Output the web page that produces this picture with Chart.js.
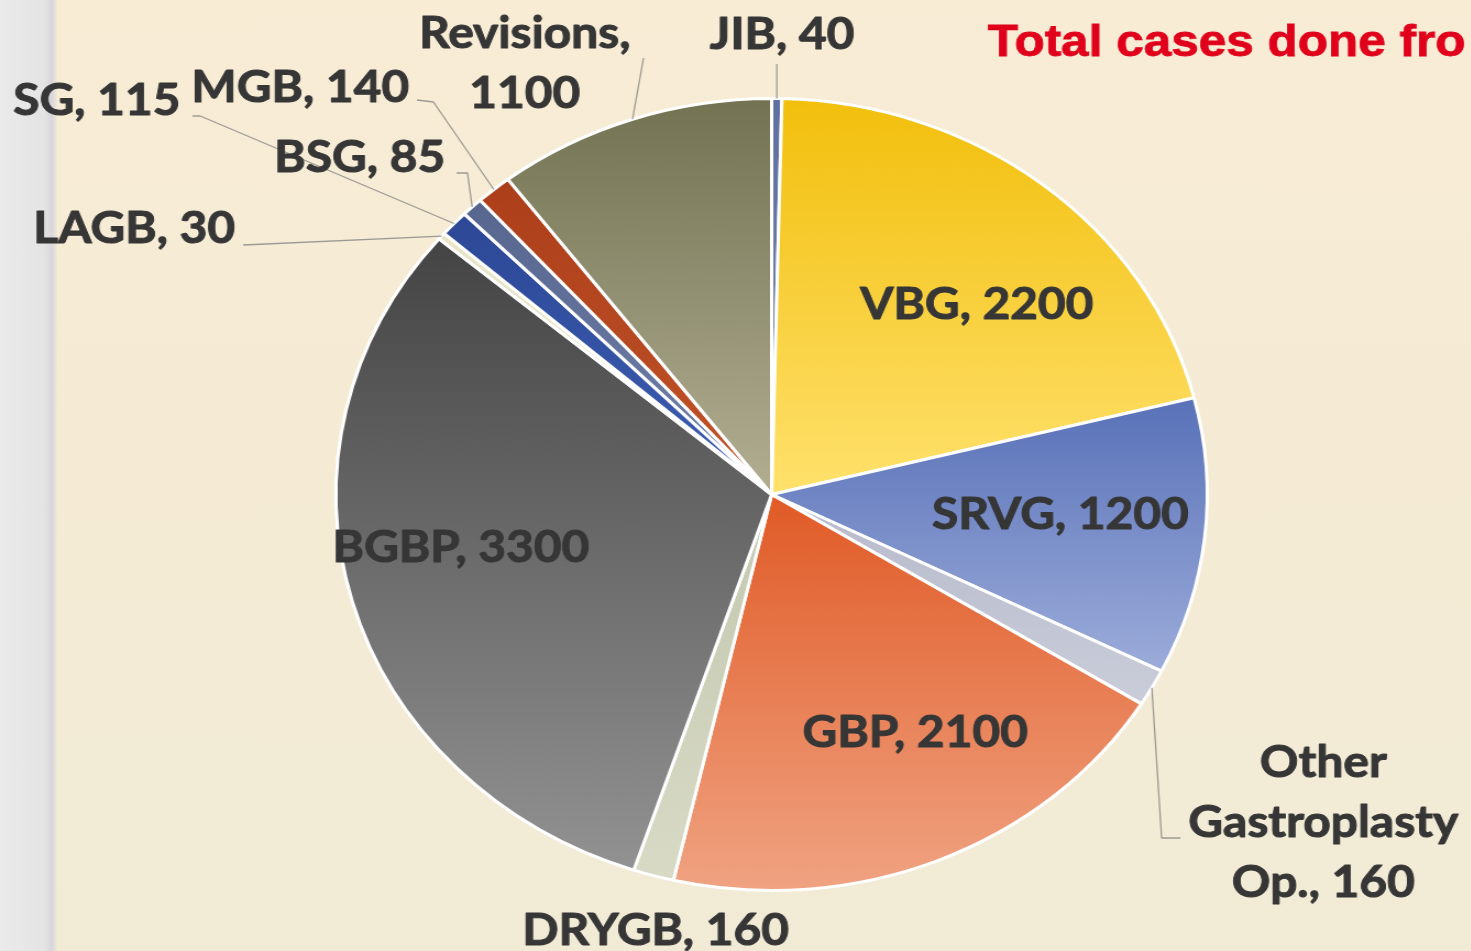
<!DOCTYPE html>
<html>
<head>
<meta charset="utf-8">
<script src="https://cdn.jsdelivr.net/npm/chart.js@4.4.1/dist/chart.umd.min.js"></script>
<style>
    html, body { margin: 0; padding: 0; }
    body {
        width: 1471px; height: 951px; overflow: hidden; position: relative;
        background: linear-gradient(180deg, #F8ECD5 0%, #F5EBD5 45%, #F1EBD6 100%);
    }
    #strip {
        position: absolute; left: 0; top: 0; width: 57px; height: 951px;
        background: linear-gradient(90deg, #EAEAEA 0px, #E4E4E4 44px, #D8D6DC 52px, #EFE9D6 57px);
    }
    /* the source slide is stretched horizontally, so the canvas is too */
    #chart { position: absolute; left: 0; top: 0; transform: scaleX(1.1); transform-origin: 0 0; }
</style>
</head>
<body>
<div id="strip"></div>
<canvas id="chart" width="1337" height="951"></canvas>
<script>
const procedures = ['JIB', 'VBG', 'SRVG', 'Other Gastroplasty Op.', 'GBP', 'DRYGB', 'BGBP', 'LAGB', 'SG', 'BSG', 'MGB', 'Revisions'];
const cases = [40, 2200, 1200, 160, 2100, 160, 3300, 30, 115, 85, 140, 1100];
const chartTitle = 'Total cases done fro';

// vertical gradient per slice: top colour -> bottom colour
const topColors = ['#5F6FA0', '#F2BF0C', '#5871B8', '#B6BACB', '#E05A26', '#C4C8AE', '#444444', '#E8E4C8', '#2C4896', '#56668E', '#AC3E1A', '#737353'];
const bottomColors = ['#7585B5', '#FFE16C', '#9CACDA', '#CACDD9', '#F0A382', '#D8DAC6', '#929292', '#EEEAD2', '#3E5EB4', '#7282AA', '#C2542A', '#B2AE92'];

// label placement (canvas px), leader lines start at the slice's outer edge
const labelLayout = [
    { x: 711, y: [49], leader: [[null, 64]] },
    { x: 888, y: [319] },
    { x: 964, y: [529] },
    { x: 1203, y: [777, 837, 897], lines: [1, 1, 2], leader: [[1056, 838], [1073, 838]] },
    { x: 832, y: [747] },
    { x: 596, y: [945] },
    { x: 419, y: [562] },
    { x: 122, y: [243], leader: [[221, 245]] },
    { x: 88, y: [115], leader: [[182, 116], [175, 116]] },
    { x: 327, y: [172], leader: [[425, 173], [415, 173]] },
    { x: 273, y: [102], leader: [[394, 102], [379, 100]] },
    { x: 477, y: [48, 108], lines: [1, 1], leader: [[585, 58]] }
];

const sliceGradients = {
    id: 'sliceGradients',
    beforeDatasetsDraw(chart) {
        const ctx = chart.ctx;
        chart.getDatasetMeta(0).data.forEach((arc, i) => {
            const p = arc.getProps(['x', 'y', 'startAngle', 'endAngle', 'outerRadius']);
            let minY = p.y, maxY = p.y;
            for (let k = 0; k <= 24; k++) {
                const a = p.startAngle + (p.endAngle - p.startAngle) * k / 24;
                const yy = p.y + Math.sin(a) * p.outerRadius;
                minY = Math.min(minY, yy);
                maxY = Math.max(maxY, yy);
            }
            if (maxY - minY < 1) maxY = minY + 1;
            const g = ctx.createLinearGradient(0, minY, 0, maxY);
            g.addColorStop(0, topColors[i]);
            g.addColorStop(1, bottomColors[i]);
            arc.options.backgroundColor = g;
        });
    }
};

const sliceLabels = {
    id: 'sliceLabels',
    afterDatasetsDraw(chart) {
        const ctx = chart.ctx;
        const meta = chart.getDatasetMeta(0);
        ctx.save();
        meta.data.forEach((arc, i) => {
            const lay = labelLayout[i];
            const p = arc.getProps(['x', 'y', 'startAngle', 'endAngle', 'outerRadius']);
            const mid = (p.startAngle + p.endAngle) / 2;
            const ex = p.x + Math.cos(mid) * p.outerRadius;
            const ey = p.y + Math.sin(mid) * p.outerRadius;

            if (lay.leader) {
                ctx.beginPath();
                ctx.strokeStyle = '#9C9A92';
                ctx.lineWidth = 1.3;
                ctx.moveTo(ex, ey);
                lay.leader.forEach(pt => ctx.lineTo(pt[0] === null ? ex : pt[0], pt[1]));
                ctx.stroke();
            }

            const words = `${procedures[i]}, ${cases[i]}`.split(' ');
            const counts = lay.lines || [words.length];
            let w = 0;
            ctx.fillStyle = '#363636';
            ctx.strokeStyle = '#363636';
            ctx.lineWidth = 1;
            ctx.lineJoin = 'round';
            ctx.font = 'bold 43.5px Lato, "Open Sans", sans-serif';
            ctx.textAlign = 'center';
            ctx.textBaseline = 'alphabetic';
            counts.forEach((n, li) => {
                const line = words.slice(w, w + n).join(' ');
                ctx.fillText(line, lay.x, lay.y[li]);
                ctx.strokeText(line, lay.x, lay.y[li]);
                w += n;
            });
        });
        ctx.restore();
    },
    afterDraw(chart) {
        const ctx = chart.ctx;
        ctx.save();
        ctx.fillStyle = '#E0001B';
        ctx.strokeStyle = '#E0001B';
        ctx.lineWidth = 0.8;
        ctx.font = 'bold 45px "Liberation Sans", Arial, sans-serif';
        ctx.textAlign = 'left';
        ctx.textBaseline = 'alphabetic';
        ctx.fillText(chartTitle, 898, 56);
        ctx.strokeText(chartTitle, 898, 56);
        ctx.restore();
    }
};

new Chart(document.getElementById('chart'), {
    type: 'pie',
    data: {
        labels: procedures,
        datasets: [{
            data: cases,
            backgroundColor: topColors,
            borderColor: '#FFFFFF',
            borderWidth: 3
        }]
    },
    options: {
        responsive: false,
        animation: false,
        layout: { padding: { top: 97, bottom: 59, left: 304, right: 238 } },
        plugins: {
            legend: { display: false },
            tooltip: { enabled: false }
        }
    },
    plugins: [sliceGradients, sliceLabels]
});
</script>
</body>
</html>
